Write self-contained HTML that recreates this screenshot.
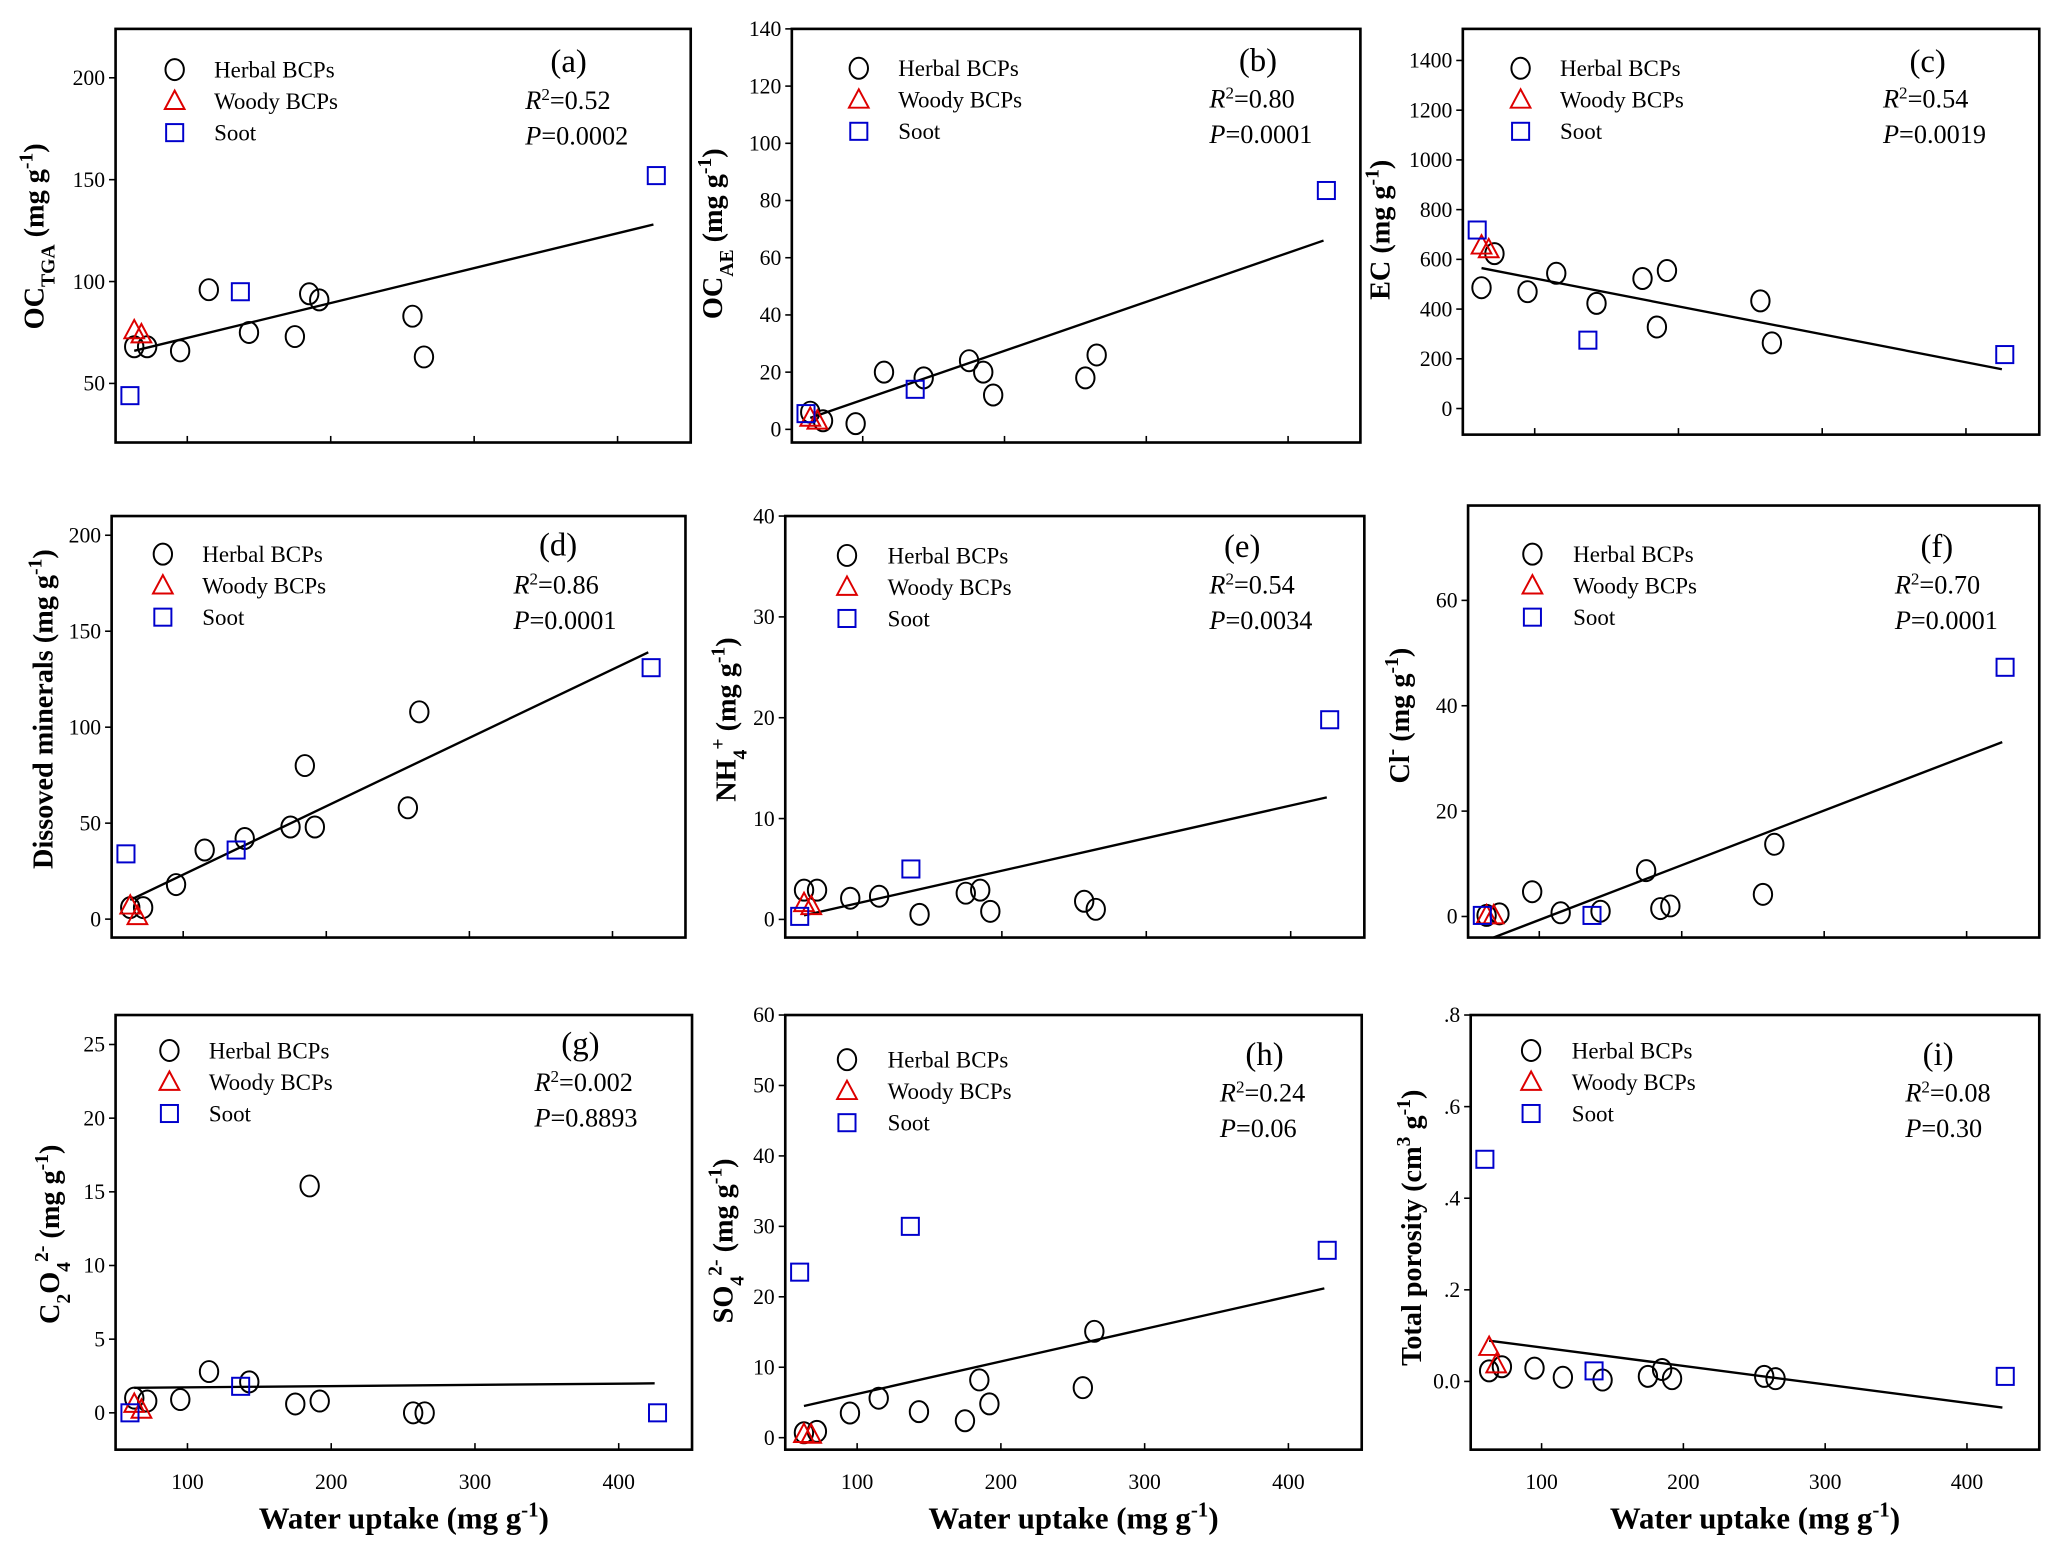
<!DOCTYPE html>
<html><head><meta charset="utf-8"><style>
html,body{margin:0;padding:0;background:#fff;}
svg{display:block;font-family:"Liberation Serif","DejaVu Serif",serif;}
</style></head><body>
<svg id="fig" xmlns="http://www.w3.org/2000/svg" width="2059" height="1553" viewBox="0 0 1568 1182.7"></svg>
<script>
// Shared water uptake values (x)
const herbalX = [63,72,95,115,143,175,185,192,257,265];
const woodyX = [63,68];
const sootX = [60,137,427];
const fitX = [63,425];

// Panel y-values
const herbalA=[68,68,66,96,75,73,94,91,83,63], woodyA=[76,74], sootA=[44,95,152], fitA=[66,128];
const herbalB=[6,3,2,20,18,24,20,12,18,26], woodyB=[4,3], sootB=[5.5,14,83.5], fitB=[4,66];
const herbalC=[486,623,470,544,423,523,328,555,433,264], woodyC=[655,640], sootC=[718,275,217], fitC=[565,158];
const herbalD=[6,6,18,36,42,48,80,48,58,108], woodyD=[7,1.5], sootD=[34,36,131], fitD=[10,139];
const herbalE=[2.9,2.9,2.1,2.3,0.5,2.6,2.9,0.8,1.8,1.0], woodyE=[1.6,1.3], sootE=[0.3,5,19.8], fitE=[0.4,12.1];
const herbalF=[0.2,0.5,4.7,0.7,1,8.7,1.5,2,4.2,13.7], woodyF=[0.2,0.2], sootF=[0.2,0.2,47.3], fitF=[-4.5,33.1];
const herbalG=[1,0.8,0.9,2.8,2.1,0.6,15.4,0.8,0,0], woodyG=[0.6,0.2], sootG=[0,1.8,0], fitG=[1.7,2.0];
const herbalH=[0.7,0.9,3.5,5.6,3.7,2.4,8.2,4.8,7.1,15.1], woodyH=[0.5,0.4], sootH=[23.5,30,26.6], fitH=[4.5,21.2];
const herbalI=[0.023,0.032,0.029,0.009,0.003,0.011,0.026,0.006,0.011,0.006], woodyI=[0.075,0.037], sootI=[0.485,0.023,0.011], fitI=[0.089,-0.057];

const xTicks=[100,200,300,400];
const yTicksA=[50,100,150,200], yTicksB=[0,20,40,60,80,100,120,140], yTicksC=[0,200,400,600,800,1000,1200,1400];
const yTicksD=[0,50,100,150,200], yTicksE=[0,10,20,30,40], yTicksF=[0,20,40,60];
const yTicksG=[0,5,10,15,20,25], yTicksH=[0,10,20,30,40,50,60], yTicksI=[0,0.2,0.4,0.6,0.8];
const yTickLabelsI=["0.0",".2",".4",".6",".8"];
const statsR=["0.52","0.80","0.54","0.86","0.54","0.70","0.002","0.24","0.08"];
const statsP=["0.0002","0.0001","0.0019","0.0001","0.0034","0.0001","0.8893","0.06","0.30"];

const NS="http://www.w3.org/2000/svg";
const svg=document.getElementById('fig');
function mk(tag,attrs,parent){const e=document.createElementNS(NS,tag);for(const k in attrs)e.setAttribute(k,attrs[k]);(parent||svg).appendChild(e);return e;}

const panels=[
 {id:'a',L:88,T:22,R:526,B:337,y0:21,y1:224,h:herbalA,w:woodyA,s:sootA,f:fitA,ticks:yTicksA,lm:133,lt:163,ly:53,lx:433,lyy:46,sx:400,sy:76,ylx:33,yly:180,yl:'a',xl:false},
 {id:'b',L:603,T:22,R:1036,B:337,y0:-4.6,y1:140,h:herbalB,w:woodyB,s:sootB,f:fitB,ticks:yTicksB,lm:654,lt:684,ly:52,lx:958,lyy:45,sx:921,sy:75,ylx:550,yly:178,yl:'b',xl:false},
 {id:'c',L:1114,T:22,R:1553,B:331,y0:-105,y1:1527,h:herbalC,w:woodyC,s:sootC,f:fitC,ticks:yTicksC,lm:1158,lt:1188,ly:52,lx:1468,lyy:46,sx:1434,sy:75,ylx:1058,yly:175,yl:'c',xl:false},
 {id:'d',L:85,T:393,R:522,B:714,y0:-9.6,y1:210,h:herbalD,w:woodyD,s:sootD,f:fitD,ticks:yTicksD,lm:124,lt:154,ly:422,lx:425,lyy:414,sx:391,sy:445,ylx:40,yly:540,yl:'d',xl:false},
 {id:'e',L:598,T:393,R:1039,B:714,y0:-1.8,y1:40,h:herbalE,w:woodyE,s:sootE,f:fitE,ticks:yTicksE,lm:645,lt:676,ly:423,lx:946,lyy:415,sx:921,sy:445,ylx:560,yly:548,yl:'e',xl:false},
 {id:'f',L:1118,T:385,R:1553,B:714,y0:-4,y1:78,h:herbalF,w:woodyF,s:sootF,f:fitF,ticks:yTicksF,lm:1167,lt:1198,ly:422,lx:1475,lyy:415,sx:1443,sy:445,ylx:1073,yly:545,yl:'f',xl:false},
 {id:'g',L:88,T:773,R:527,B:1104,y0:-2.5,y1:27,h:herbalG,w:woodyG,s:sootG,f:fitG,ticks:yTicksG,lm:129,lt:159,ly:800,lx:442,lyy:794,sx:407,sy:824,ylx:45,yly:940,yl:'g',xl:true},
 {id:'h',L:598,T:773,R:1037,B:1104,y0:-1.7,y1:60,h:herbalH,w:woodyH,s:sootH,f:fitH,ticks:yTicksH,lm:645,lt:676,ly:807,lx:963,lyy:802,sx:929,sy:832,ylx:558,yly:945,yl:'h',xl:true},
 {id:'i',L:1120,T:773,R:1553,B:1104,y0:-0.149,y1:0.8,h:herbalI,w:woodyI,s:sootI,f:fitI,ticks:yTicksI,tl:yTickLabelsI,lm:1166,lt:1197,ly:800,lx:1476,lyy:802,sx:1451,sy:832,ylx:1082,yly:935,yl:'i',xl:true}
];
const X0=50,X1=451;

function yLabel(g,p){
  const t=mk('text',{x:p.ylx,y:p.yly,transform:`rotate(-90 ${p.ylx} ${p.yly})`,'text-anchor':'middle','font-size':21.5,'font-weight':'bold'},g);
  
  
  const sub=(s)=>`<tspan baseline-shift="sub" font-size="15">${s}</tspan>`;
  const sup=(s)=>`<tspan baseline-shift="super" font-size="15">${s}</tspan>`;
  const mg=` (mg g${sup('-1')})`;
  const m={a:'OC'+sub('TGA')+mg,b:'OC'+sub('AE')+mg,c:'EC'+mg,d:'Dissoved minerals'+mg,e:'NH'+sub('4')+sup('+')+mg,
    f:'Cl'+sup('-')+mg,g:'C'+sub('2')+'O'+sub('4')+sup('2-')+mg,h:'SO'+sub('4')+sup('2-')+mg,i:'Total porosity (cm'+sup('3')+' g'+sup('-1')+')'};
  t.innerHTML=m[p.yl];
}

panels.forEach((p,idx)=>{
  const g=mk('g',{});
  
  
  const sx=v=>p.L+(v-X0)/(X1-X0)*(p.R-p.L);
  const sy=v=>p.B-(v-p.y0)/(p.y1-p.y0)*(p.B-p.T);
  const cp=mk('clipPath',{id:'clip'+p.id},g);
  mk('rect',{x:p.L,y:p.T,width:p.R-p.L,height:p.B-p.T},cp);
  p.ticks.forEach((v,i)=>{
    const yy=sy(v);
    const tk=mk('line',{x1:p.L-5,x2:p.L,y1:yy,y2:yy,stroke:'#000','stroke-width':1.2},g);
    
    
    const tl=mk('text',{x:p.L-8,y:yy+5.5,'text-anchor':'end','font-size':16.5},g);
    
    
    tl.textContent=p.tl?p.tl[i]:String(v);
  });
  xTicks.forEach(v=>{
    const xx=sx(v);
    const tk=mk('line',{x1:xx,x2:xx,y1:p.B,y2:p.B-5,stroke:'#000','stroke-width':1.2},g);
    
    
    if(p.xl){
      const tl=mk('text',{x:xx,y:p.B+30,'text-anchor':'middle','font-size':16.5},g);
      
      
      tl.textContent=String(v);
    }
  });
  if(p.xl){
    const xt=mk('text',{x:(p.L+p.R)/2,y:p.B+60,'text-anchor':'middle','font-size':23.5,'font-weight':'bold'},g);
    
    
    xt.innerHTML='Water uptake  (mg g<tspan baseline-shift="super" font-size="16">-1</tspan>)';
  }
  yLabel(g,p);
  const fl=mk('line',{x1:sx(fitX[0]),y1:sy(p.f[0]),x2:sx(fitX[1]),y2:sy(p.f[1]),stroke:'#000','stroke-width':1.8,'clip-path':`url(#clip${p.id})`},g);
  
  
  const circ=(cx,cy,gg)=>mk('ellipse',{cx:cx,cy:cy,rx:7,ry:8,fill:'none',stroke:'#000','stroke-width':1.5},gg);
  const tri=(cx,cy,gg)=>mk('polygon',{points:`${cx},${cy-8} ${cx-7.5},${cy+6} ${cx+7.5},${cy+6}`,fill:'none',stroke:'#d00','stroke-width':1.5},gg);
  const sq=(cx,cy,gg)=>mk('rect',{x:cx-6.5,y:cy-6.5,width:13,height:13,fill:'none',stroke:'#00c','stroke-width':1.5},gg);
  herbalX.forEach((x,i)=>{const e=circ(sx(x),sy(p.h[i]),g);
    
    });
  woodyX.forEach((x,i)=>{const e=tri(sx(x),sy(p.w[i]),g);
    
    });
  sootX.forEach((x,i)=>{const e=sq(sx(x),sy(p.s[i]),g);
    
    });
  const fr=mk('rect',{x:p.L,y:p.T,width:p.R-p.L,height:p.B-p.T,fill:'none',stroke:'#000','stroke-width':2},g);
  
  
  const lg=mk('g',{},g);
  
  
  const names=['Herbal BCPs','Woody BCPs','Soot'];
  [circ,tri,sq].forEach((fn,i)=>{
    const yy=p.ly+i*24;
    const m=fn(p.lm,yy,lg);
    
    
    const t=mk('text',{x:p.lt,y:yy+6,'font-size':17.5},lg);
    
    
    t.textContent=names[i];
  });
  const pl=mk('text',{x:p.lx,y:p.lyy+9,'text-anchor':'middle','font-size':25},g);
  
  
  pl.textContent='('+p.id+')';
  const r=mk('text',{x:p.sx,y:p.sy+7,'font-size':20},g);
  
  
  r.innerHTML='<tspan font-style="italic">R</tspan><tspan baseline-shift="super" font-size="13">2</tspan>='+statsR[idx];
  const pv=mk('text',{x:p.sx,y:p.sy+34,'font-size':20},g);
  
  
  pv.innerHTML='<tspan font-style="italic">P</tspan>='+statsP[idx];
});
</script>
</body></html>
